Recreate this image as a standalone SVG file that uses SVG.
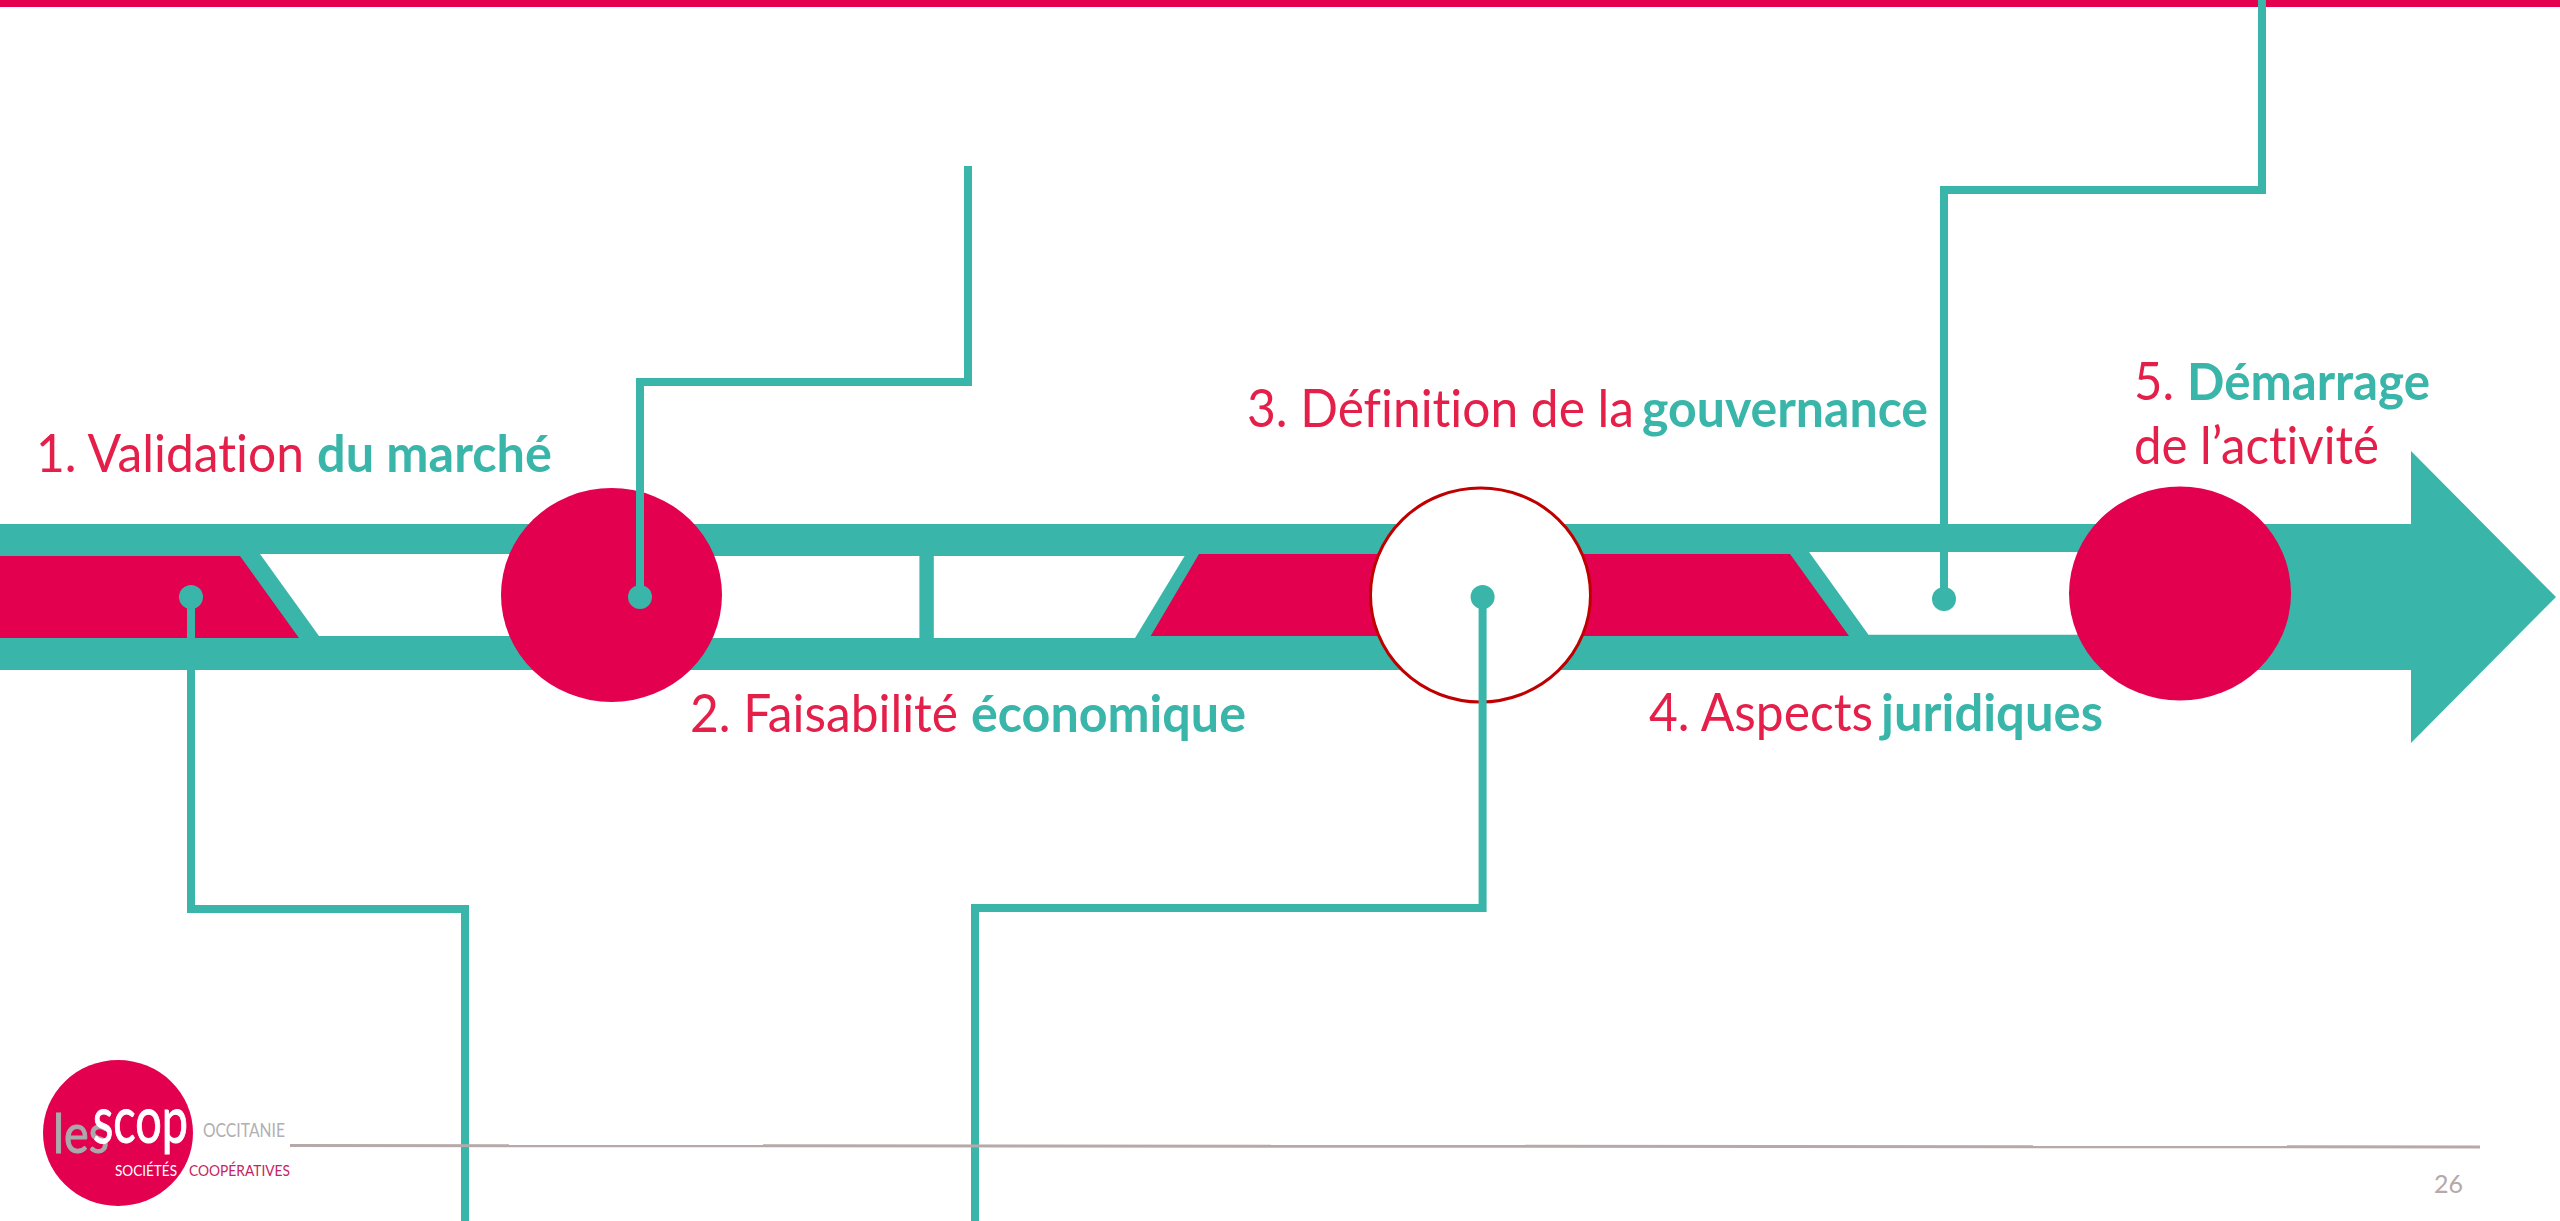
<svg xmlns="http://www.w3.org/2000/svg" width="2560" height="1221" viewBox="0 0 2560 1221">
<style>
.teal{fill:#39b5a9}.red{fill:#e3004f}.win{fill:#fff}
.conn{fill:none;stroke:#39b5a9;stroke-width:8;marker-start:url(#dot)}
.lbl{font-family:"Lato","Liberation Sans",sans-serif;font-size:52px;fill:#e4204a;font-variant-ligatures:none}
.b{font-weight:700;fill:#39b5a9}
.lg{font-family:"Lato","Liberation Sans",sans-serif}
</style>
<defs><marker id="dot" markerUnits="userSpaceOnUse" markerWidth="26" markerHeight="26" refX="13" refY="13"><circle cx="13" cy="13" r="12" fill="#39b5a9"/></marker></defs>
<rect id="top-band" x="0" y="0" width="2560" height="7" class="red"/>
<g id="timeline-arrow">
<path class="teal" d="M0 524H2411V451L2556 597 2411 743V670H0Z"/>
<polygon class="win" points="260,554 560,554 560,636 319,636"/>
<polygon class="win" points="700,556 919.4,556 919.4,638 700,638"/>
<polygon class="win" points="933.8,556 1184.6,556 1135,638 933.8,638"/>
<polygon class="win" points="1809,552 2150,552 2150,634.7 1868.5,634.7"/>
<polygon class="red" points="0,556 240,556 299,638 0,638"/>
<polygon class="red" points="1199,554 1790,554 1849,636 1150.7,636"/>
</g>
<g id="node-1"><ellipse class="red" cx="611.5" cy="595" rx="110.5" ry="107"/></g>
<g id="node-2"><ellipse cx="1480.5" cy="595" rx="110" ry="107" fill="#fff" stroke="#c00000" stroke-width="3"/></g>
<g id="node-3"><ellipse class="red" cx="2180" cy="593.5" rx="111" ry="107"/></g>
<g id="connectors">
<path class="conn" d="M191 597V909H465V1221"/>
<path class="conn" d="M640 597V382H968V166"/>
<path class="conn" d="M1482.6 597V908H975V1221"/>
<path class="conn" d="M1944 599V190H2262V0"/>
</g>
<g id="labels">
<text class="lbl" y="472"><tspan x="36" textLength="268" lengthAdjust="spacingAndGlyphs">1. Validation</tspan><tspan class="b" x="317" textLength="235" lengthAdjust="spacingAndGlyphs">du marché</tspan></text>
<text class="lbl" y="732"><tspan x="690" textLength="268" lengthAdjust="spacingAndGlyphs">2. Faisabilité</tspan><tspan class="b" x="971" textLength="275" lengthAdjust="spacingAndGlyphs">économique</tspan></text>
<text class="lbl" y="427"><tspan x="1247" textLength="387" lengthAdjust="spacingAndGlyphs">3. Définition de la</tspan><tspan class="b" x="1642" textLength="286" lengthAdjust="spacingAndGlyphs">gouvernance</tspan></text>
<text class="lbl" y="731"><tspan x="1649" textLength="224" lengthAdjust="spacingAndGlyphs">4. Aspects</tspan><tspan class="b" x="1881" textLength="222" lengthAdjust="spacingAndGlyphs">juridiques</tspan></text>
<text class="lbl" y="400"><tspan x="2134" textLength="40" lengthAdjust="spacingAndGlyphs">5.</tspan><tspan class="b" x="2187" textLength="243" lengthAdjust="spacingAndGlyphs">Démarrage</tspan></text>
<text class="lbl" y="464" x="2134" textLength="245" lengthAdjust="spacingAndGlyphs">de l’activité</text>
</g>
<g id="logo">
<ellipse class="red" cx="118" cy="1133" rx="75" ry="73"/>
<text class="lg" x="53" y="1153" font-size="54" fill="#aaa" stroke="#aaa" stroke-width="1" textLength="56" lengthAdjust="spacingAndGlyphs">les</text>
<text class="lg" x="93" y="1143" font-size="66" fill="#fff" stroke="#fff" stroke-width="1" textLength="95" lengthAdjust="spacingAndGlyphs">scop</text>
<text class="lg" x="203" y="1137" font-size="19" fill="#b0b0b0" textLength="82" lengthAdjust="spacingAndGlyphs">OCCITANIE</text>
<text class="lg" x="115" y="1176" font-size="16" fill="#fff" textLength="62" lengthAdjust="spacingAndGlyphs">SOCIÉTÉS</text>
<text class="lg" x="189" y="1176" font-size="16" fill="#c5255f" textLength="101" lengthAdjust="spacingAndGlyphs">COOPÉRATIVES</text>
</g>
<path id="footer-line" d="M290 1145.5L2480 1147" stroke="#b5a9a9" stroke-width="3" fill="none"/>
<text id="page-number" class="lg" x="2434" y="1193" font-size="25" fill="#b5a9a9">26</text>
</svg>
